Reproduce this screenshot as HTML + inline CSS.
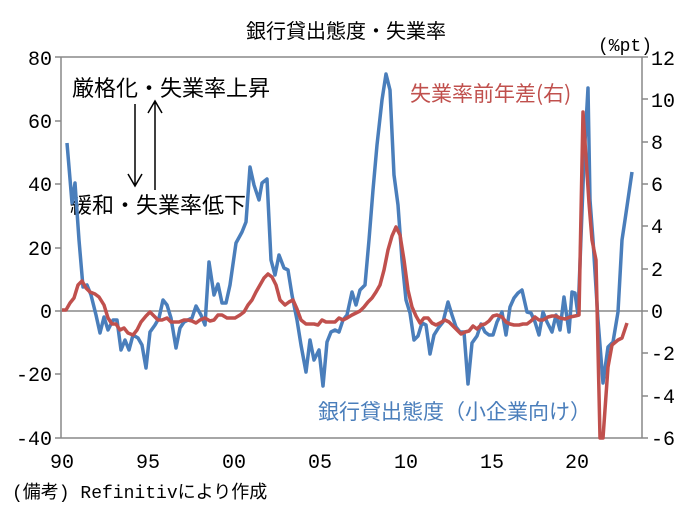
<!DOCTYPE html>
<html><head><meta charset="utf-8"><style>
body{margin:0;background:#fff}
svg text{font-family:"Liberation Sans","Noto Sans CJK JP",sans-serif}
svg .m{font-family:"Liberation Mono","Noto Sans CJK JP",monospace}
svg .j{font-family:"Noto Sans CJK JP",sans-serif}
</style></head><body>
<svg width="689" height="515" viewBox="0 0 689 515" xmlns="http://www.w3.org/2000/svg">
<rect width="689" height="515" fill="#fff"/>
<text x="346" y="38" font-size="20" text-anchor="middle" class="j">銀行貸出態度・失業率</text>
<text x="652" y="51" font-size="18" text-anchor="end" class="m">(%pt)</text>
<g stroke="#888" stroke-width="1.5" fill="none">
<line x1="61" y1="57" x2="642" y2="57"/>
<line x1="61" y1="57" x2="61" y2="438"/>
<line x1="642" y1="57" x2="642" y2="438"/>
<line x1="61" y1="438" x2="642" y2="438"/>
<line x1="61" y1="311" x2="642" y2="311"/>
<path d="M55 57H61M55 121H61M55 184H61M55 248H61M55 311H61M55 374H61M55 438H61"/>
<path d="M642 57H648M642 99H648M642 142H648M642 184H648M642 226H648M642 269H648M642 311H648M642 353H648M642 396H648M642 438H648"/>
</g>
<g font-size="20" text-anchor="end">
<text x="52" y="65" class="m">80</text><text x="52" y="128" class="m">60</text><text x="52" y="191" class="m">40</text><text x="52" y="255" class="m">20</text><text x="52" y="318" class="m">0</text><text x="52" y="381" class="m">-20</text><text x="52" y="445" class="m">-40</text>
</g>
<g font-size="20" text-anchor="start">
<text x="651" y="65" class="m">12</text><text x="651" y="107" class="m">10</text><text x="651" y="149" class="m">8</text><text x="651" y="191" class="m">6</text><text x="651" y="233" class="m">4</text><text x="651" y="276" class="m">2</text><text x="651" y="318" class="m">0</text><text x="651" y="360" class="m">-2</text><text x="651" y="403" class="m">-4</text><text x="651" y="445" class="m">-6</text>
</g>
<g font-size="20" text-anchor="middle">
<text x="62" y="468" class="m">90</text><text x="148" y="468" class="m">95</text><text x="234" y="468" class="m">00</text><text x="320" y="468" class="m">05</text><text x="406" y="468" class="m">10</text><text x="492" y="468" class="m">15</text><text x="577" y="468" class="m">20</text>
</g>
<text x="12" y="498" font-size="18" class="m">(備考) Refinitivにより作成</text>
<text x="72" y="96" font-size="22" class="j">厳格化・失業率上昇</text>
<text x="70" y="213" font-size="22" class="j">緩和・失業率低下</text>
<g stroke="#000" stroke-width="1.5" fill="none">
<path d="M135 104V186M128 174L135 186L142 174"/>
<path d="M155 190V101M148 113L155 101L162 113"/>
</g>
<text x="410" y="101" font-size="21" fill="#c0504d" class="j">失業率前年差(右)</text>
<text x="318" y="419" font-size="21" fill="#4a7ebb" class="j">銀行貸出態度（小企業向け）</text>
<polyline fill="none" stroke="#4a7ebb" stroke-width="3.5" stroke-linejoin="round" points="67,143 72,203 75,183 79,240 83,287 87,285 91,295 96,315 100,333 104,317 108,330 113,320 117,320 121,350 125,340 129,350 133,335 138,338 142,345 146,368 150,332 155,325 159,318 163,300 167,305 171,318 176,348 180,328 184,322 188,320 192,318 196,306 201,315 205,325 209,262 214,295 218,284 222,303 226,303 230,285 236,243 242,232 246,222 250,167 254,185 259,200 262,183 267,179 271,260 275,275 279,255 284,268 288,270 292,295 297,320 301,345 306,372 310,340 314,360 319,350 323,386 327,342 331,332 335,330 339,332 343,320 347,315 352,292 356,305 360,290 365,285 369,240 373,190 377,145 382,100 386,74 390,90 394,175 398,205 402,260 406,300 410,313 414,340 418,336 422,323 426,325 430,354 434,335 439,327 443,322 448,302 452,315 456,327 460,332 464,332 468,384 472,343 477,336 481,324 485,332 489,335 493,335 497,322 502,312 506,335 510,307 514,298 518,293 522,290 527,312 531,313 535,322 539,335 543,312 547,322 552,332 556,315 560,330 564,297 569,332 572,292 575,293 578,315 584,160 588,88 590,200 593,240 598,320 603,383 608,347 613,342 618,312 622,240 625,220 632,172"/>
<polyline fill="none" stroke="#c0504d" stroke-width="3.5" stroke-linejoin="round" points="62,310 66,310 70,303 74,298 78,285 82,281 86,288 90,292 95,294 99,297 104,305 108,318 112,324 116,324 120,330 124,328 128,333 133,335 137,330 141,322 146,316 150,312 154,316 158,320 162,320 167,318 171,322 175,322 179,322 184,320 188,320 192,321 196,323 200,320 205,318 210,321 214,320 218,315 222,315 227,318 231,318 235,318 240,315 244,312 248,305 252,300 256,292 260,285 264,278 268,274 272,277 276,285 280,300 285,305 289,302 293,300 297,309 301,320 306,324 310,324 314,324 318,325 322,320 326,322 330,322 335,322 339,318 343,320 347,318 352,315 356,313 360,311 364,307 368,302 372,298 376,292 380,285 384,270 388,250 392,236 396,227 400,235 404,260 408,290 412,307 416,316 420,323 424,318 428,318 432,323 436,325 440,323 445,320 449,322 453,326 457,330 461,334 465,332 469,331 473,326 477,329 481,325 485,324 489,321 493,316 497,315 502,317 506,322 510,324 514,325 519,325 523,324 527,324 531,321 535,317 539,320 543,320 548,317 552,316 556,316 560,318 565,319 570,317 575,316 579,315 583,112 589,203 592,240 596,260 600,438 603,438 608,367 612,345 618,340 622,338 627,323"/>
</svg>
</body></html>
